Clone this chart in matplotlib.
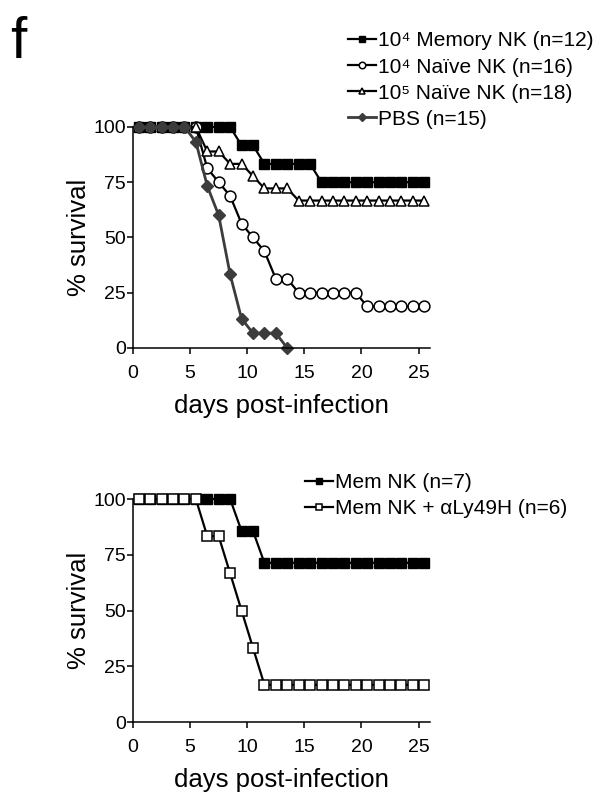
import matplotlib
matplotlib.use("Agg")
import matplotlib.pyplot as plt

plt.rcParams['font.family'] = ['Liberation Sans', 'DejaVu Sans']

# top panel
days = [0.5, 1.5, 2.5, 3.5, 4.5, 5.5, 6.5, 7.5, 8.5, 9.5, 10.5, 11.5, 12.5,
        13.5, 14.5, 15.5, 16.5, 17.5, 18.5, 19.5, 20.5, 21.5, 22.5, 23.5, 24.5, 25.5]
memory_1e4 = [100, 100, 100, 100, 100, 100, 100, 100, 100, 91.7, 91.7, 83.3, 83.3,
              83.3, 83.3, 83.3, 75, 75, 75, 75, 75, 75, 75, 75, 75, 75]
naive_1e4 = [100, 100, 100, 100, 100, 100, 81.3, 75, 68.8, 56.3, 50, 43.8, 31.3,
             31.3, 25, 25, 25, 25, 25, 25, 18.8, 18.8, 18.8, 18.8, 18.8, 18.8]
naive_1e5 = [100, 100, 100, 100, 100, 100, 88.9, 88.9, 83.3, 83.3, 77.8, 72.2, 72.2,
             72.2, 66.7, 66.7, 66.7, 66.7, 66.7, 66.7, 66.7, 66.7, 66.7, 66.7, 66.7, 66.7]
pbs_days = [0.5, 1.5, 2.5, 3.5, 4.5, 5.5, 6.5, 7.5, 8.5, 9.5, 10.5, 11.5, 12.5, 13.5]
pbs = [100, 100, 100, 100, 100, 93.3, 73.3, 60, 33.3, 13.3, 6.7, 6.7, 6.7, 0]

# bottom panel
mem_nk = [100, 100, 100, 100, 100, 100, 100, 100, 100, 85.7, 85.7, 71.4, 71.4,
          71.4, 71.4, 71.4, 71.4, 71.4, 71.4, 71.4, 71.4, 71.4, 71.4, 71.4, 71.4, 71.4]
mem_nk_ly49h = [100, 100, 100, 100, 100, 100, 83.3, 83.3, 66.7, 50, 33.3, 16.7, 16.7,
                16.7, 16.7, 16.7, 16.7, 16.7, 16.7, 16.7, 16.7, 16.7, 16.7, 16.7, 16.7, 16.7]

xticks = [0, 5, 10, 15, 20, 25]
yticks = [0, 25, 50, 75, 100]

fig = plt.figure(figsize=(6, 7.93), dpi=100)
ax1 = fig.add_axes([0.2217, 0.5612, 0.495, 0.2787])
ax2 = fig.add_axes([0.2217, 0.0895, 0.495, 0.2812])

ms = 7.8
ax1.plot(days, memory_1e4, '-s', color='black', mfc='black', mec='black', ms=ms,
         lw=1.6, mew=1, clip_on=False, label='10⁴ Memory NK (n=12)')
ax1.plot(days, naive_1e4, '-o', color='black', mfc='white', mec='black', ms=ms,
         lw=1.6, mew=1.1, clip_on=False, label='10⁴ Naïve NK (n=16)')
ax1.plot(days, naive_1e5, '-^', color='black', mfc='white', mec='black', ms=ms,
         lw=1.6, mew=1.1, clip_on=False, label='10⁵ Naïve NK (n=18)')
ax1.plot(pbs_days, pbs, '-D', color='#3c3c3c', mfc='#3c3c3c', mec='#3c3c3c', ms=6.5,
         lw=2, clip_on=False, label='PBS (n=15)')

ax2.plot(days, mem_nk, '-s', color='black', mfc='black', mec='black', ms=7.2,
         lw=1.6, mew=1, clip_on=False, label='Mem NK (n=7)')
ax2.plot(days, mem_nk_ly49h, '-s', color='black', mfc='white', mec='black', ms=7.2,
         lw=1.6, mew=1.1, clip_on=False, label='Mem NK + αLy49H (n=6)')

for ax in (ax1, ax2):
    ax.set_xlim(0, 26)
    ax.set_ylim(0, 100)
    ax.set_xticks(xticks)
    ax.set_yticks(yticks)
    ax.spines['top'].set_visible(False)
    ax.spines['right'].set_visible(False)
    ax.spines['left'].set_linewidth(1.1)
    ax.spines['bottom'].set_linewidth(1.1)
    ax.tick_params(direction='out', length=4, width=1.1, labelsize=14)
    ax.tick_params(axis='y', pad=1)
    ax.tick_params(axis='x', pad=8)
    ax.set_xlabel('days post-infection', fontsize=18.5, labelpad=9)
    ax.set_ylabel('% survival', fontsize=18.5, labelpad=2)

leg_kw = dict(frameon=False, fontsize=15, handlelength=1.35, handletextpad=0.1,
              labelspacing=0.34, borderpad=0, borderaxespad=0, markerscale=0.6,
              loc='center left')
fig.legend(handles=ax1.get_lines(), bbox_to_anchor=(0.58, 0.899), **leg_kw)
fig.legend(handles=ax2.get_lines(), bbox_to_anchor=(0.508, 0.3752), **leg_kw)

fig.text(0.017, 0.927, 'f', fontsize=42, va='baseline', ha='left')

fig.savefig('out.png', dpi=100)
